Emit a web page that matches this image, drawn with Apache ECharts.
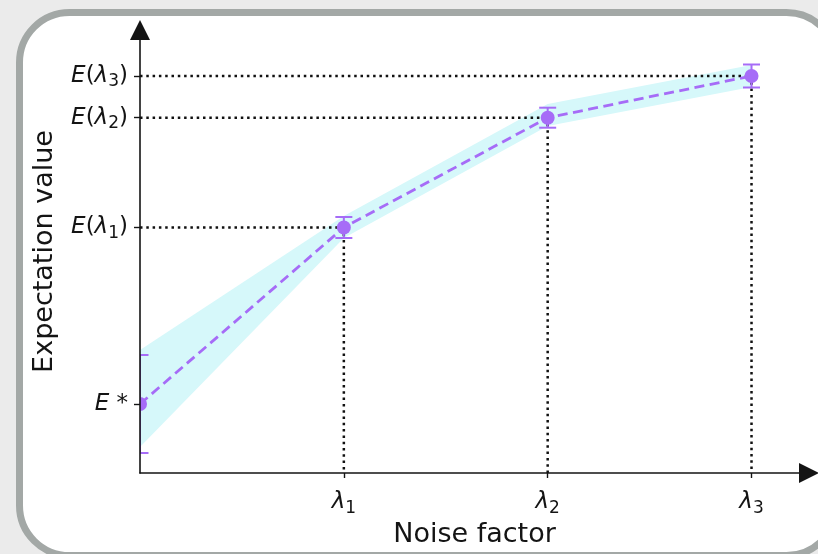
<!DOCTYPE html>
<html>
<head>
<meta charset="utf-8">
<script src="https://cdn.jsdelivr.net/npm/echarts@6/dist/echarts.min.js"></script>
<style>
  html, body { margin: 0; padding: 0; background: #ebebeb; }
  #chart { width: 818px; height: 554px; }
</style>
</head>
<body>
<div id="chart"></div>
<script>
  // noise factors: 0 is the extrapolated point E*, then lambda 1..3
  const noiseX = [0, 1, 2, 3]
  const expValues = [69, 245.5, 355.3, 397]
  const expErrors = [49, 10.5, 10, 11.5]
  const bandLow = [26, 235, 347, 386]
  const bandHigh = [123, 257, 369, 408]

  const xTickValues = [1, 2, 3]
  const xTickSubs = ['1', '2', '3']
  const yTickValues = [69, 245.5, 355.3, 397]
  const yTickSubs = ['*', '1', '2', '3']

  const FONT = 'DejaVu Sans'
  const PURPLE = '#a66cf7'
  const INK = '#141414'

  const chart = echarts.init(document.getElementById('chart'), null, { renderer: 'canvas' })

  const rich = {
    i: { fontFamily: FONT, fontStyle: 'italic', fontSize: 23, color: INK },
    n: { fontFamily: FONT, fontSize: 23, color: INK },
    s: { fontFamily: FONT, fontSize: 17, color: INK, padding: [12, 0, 0, 0] }
  }

  function yLabel (val) {
    const k = yTickValues.indexOf(val)
    if (k < 0) return ''
    if (yTickSubs[k] === '*') return '{i|E}{n| *}'
    return '{i|E}{n|(}{i|λ}{s|' + yTickSubs[k] + '}{n|)}'
  }
  function xLabel (val) {
    const k = xTickValues.indexOf(val)
    if (k < 0) return ''
    return '{i|λ}{s|' + xTickSubs[k] + '}'
  }

  const guideData = noiseX.slice(1).map((x, k) => [x, expValues[k + 1]])
  const errData = noiseX.map((x, k) => [x, expValues[k], expValues[k] - expErrors[k], expValues[k] + expErrors[k]])
  const bandData = noiseX.map((x, k) => [x, bandLow[k], bandHigh[k]])

  chart.setOption({
    backgroundColor: '#ebebeb',
    animation: false,
    graphic: [{
      type: 'rect',
      z: -1,
      silent: true,
      shape: { x: 19.5, y: 12.5, width: 817, height: 543, r: 50 },
      style: { fill: '#ffffff', stroke: '#a3a8a6', lineWidth: 7 }
    }],
    grid: { left: 140, right: 9, top: 30, bottom: 81, containLabel: false },
    xAxis: {
      type: 'value',
      z: 10,
      min: 0,
      max: 3.282,
      name: 'Noise factor',
      nameLocation: 'middle',
      nameGap: 48,
      nameTextStyle: { fontFamily: FONT, fontSize: 27, color: INK },
      axisLine: {
        show: true,
        onZero: false,
        symbol: ['none', 'triangle'],
        symbolSize: [20, 20],
        lineStyle: { color: INK, width: 1.6 }
      },
      axisTick: { show: true, customValues: xTickValues, length: 5, lineStyle: { color: INK, width: 1.4 } },
      axisLabel: { customValues: xTickValues, formatter: xLabel, rich: rich, margin: 15 },
      splitLine: { show: false }
    },
    yAxis: {
      type: 'value',
      z: 10,
      min: 0,
      max: 443,
      name: 'Expectation value',
      nameLocation: 'middle',
      nameGap: 82,
      nameTextStyle: { fontFamily: FONT, fontSize: 27, color: INK },
      axisLine: {
        show: true,
        onZero: false,
        symbol: ['none', 'triangle'],
        symbolSize: [20, 20],
        lineStyle: { color: INK, width: 1.6 }
      },
      axisTick: { show: true, customValues: yTickValues, length: 6, lineStyle: { color: INK, width: 1.4 } },
      axisLabel: { customValues: yTickValues, formatter: yLabel, rich: rich, margin: 12 },
      splitLine: { show: false }
    },
    series: [
      {
        // shaded band, drawn as one polygon from the band arrays
        name: 'band',
        type: 'custom',
        data: bandData,
        z: 1,
        renderItem (params, api) {
          if (params.dataIndex !== 0) return null
          const upper = bandData.map(d => api.coord([d[0], d[2]]))
          const lower = bandData.map(d => api.coord([d[0], d[1]])).reverse()
          return {
            type: 'polygon',
            shape: { points: upper.concat(lower) },
            style: { fill: '#d6f8fa', stroke: null }
          }
        }
      },
      {
        name: 'guides',
        type: 'custom',
        data: guideData,
        z: 2,
        renderItem (params, api) {
          const x = api.value(0)
          const y = api.value(1)
          const p = api.coord([x, y])
          const left = api.coord([0, y])
          const bottom = api.coord([x, 0])
          const st = { stroke: '#111', lineWidth: 2.5, lineDash: [2.5, 3.8], fill: null }
          return {
            type: 'group',
            children: [
              { type: 'line', shape: { x1: left[0], y1: p[1], x2: p[0], y2: p[1] }, style: st },
              { type: 'line', shape: { x1: p[0], y1: p[1], x2: p[0], y2: bottom[1] }, style: st }
            ]
          }
        }
      },
      {
        name: 'expectationLine',
        type: 'line',
        data: noiseX.map((x, k) => [x, expValues[k]]),
        symbol: 'none',
        lineStyle: { color: PURPLE, width: 2.8, type: [10, 5.5] },
        z: 3
      },
      {
        // error bars and markers, clipped to the plot area like the original
        name: 'errors',
        type: 'custom',
        data: errData,
        clip: true,
        z: 4,
        renderItem (params, api) {
          const x = api.value(0)
          const c = api.coord([x, api.value(1)])
          const lo = api.coord([x, api.value(2)])
          const hi = api.coord([x, api.value(3)])
          const half = 8.5
          const st = { stroke: PURPLE, lineWidth: 2, fill: null }
          return {
            type: 'group',
            children: [
              { type: 'line', shape: { x1: lo[0], y1: lo[1], x2: hi[0], y2: hi[1] }, style: st },
              { type: 'line', shape: { x1: lo[0] - half, y1: lo[1], x2: lo[0] + half, y2: lo[1] }, style: st },
              { type: 'line', shape: { x1: hi[0] - half, y1: hi[1], x2: hi[0] + half, y2: hi[1] }, style: st },
              { type: 'circle', shape: { cx: c[0], cy: c[1], r: 7 }, style: { fill: PURPLE, stroke: null } }
            ]
          }
        }
      }
    ]
  })
</script>
</body>
</html>
